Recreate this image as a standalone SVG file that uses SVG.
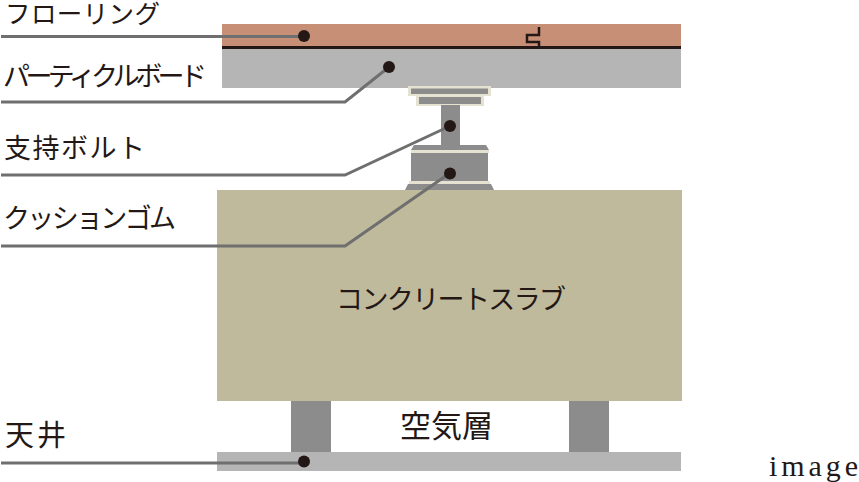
<svg xmlns="http://www.w3.org/2000/svg" width="859" height="482" viewBox="0 0 859 482">
<style>
.l{font-family:"Noto Sans CJK JP","Noto Sans CJK SC",sans-serif;font-size:27px;fill:#231815}
.c{fill:none;stroke:#6f6f6f;stroke-width:3}
.d{fill:#231815}
.g{fill:#8c8c8c}
.b{fill:#e6e2d2}
</style>
<rect width="859" height="482" fill="#fff"/>
<g id="flooring"><rect x="222" y="24" width="459" height="22.500" fill="#c78f76"/><rect x="222" y="46" width="459" height="3" fill="#231815"/><path d="M539 27V35H527V42H539V46" fill="none" stroke="#231815" stroke-width="2.500"/><text class="l" x="5" y="23" textLength="155" style="font-size:25.500px">フローリング</text></g>
<g id="board"><rect x="222" y="49" width="459" height="39" fill="#b5b5b5"/><text class="l" x="3" y="86" textLength="204">パーティクルボード</text></g>
<g id="bolt">
<rect class="b" x="408" y="86" width="83" height="10"/><rect class="g" x="411" y="88.500" width="77" height="5.500"/>
<rect class="b" x="416" y="95" width="68" height="11"/><rect class="g" x="419" y="97" width="62" height="7"/>
<rect class="g" x="441" y="105" width="19" height="41"/>
<path class="g" d="M414 145H486L489 150H411Z"/>
<text class="l" x="4" y="158" textLength="141">支持ボルト</text></g>
<g id="rubber">
<rect class="b" x="411" y="150" width="78" height="3"/><rect class="g" x="411" y="153" width="77" height="28.500"/>
<rect class="b" x="409" y="181" width="81" height="3"/><path class="g" d="M408 184H491L494 190H405Z"/>
<text class="l" x="3" y="228" textLength="173">クッションゴム</text></g>
<g id="slab"><rect x="217" y="190" width="465" height="211" fill="#bfba9c"/><text class="l" x="336" y="309" textLength="230">コンクリートスラブ</text></g>
<g id="air"><rect class="g" x="291" y="401" width="40" height="52"/><rect class="g" x="569" y="401" width="40" height="52"/><text class="l" x="400" y="437" textLength="93" style="font-size:31px">空気層</text></g>
<g id="ceiling"><rect x="217" y="452" width="464" height="19" fill="#b5b5b5"/><text class="l" x="5" y="446" textLength="61" style="font-size:29px">天井</text></g>
<g id="connectors">
<path class="c" d="M1 36.500H304"/><path class="c" d="M1 102H345L389 67"/><path class="c" d="M1 175H345L450 126"/><path class="c" d="M1 246H345L450 173"/><path class="c" d="M1 463H304"/>
<circle class="d" cx="304" cy="36" r="6"/><circle class="d" cx="389" cy="67" r="6"/><circle class="d" cx="450" cy="126" r="6"/><circle class="d" cx="450" cy="173.500" r="6"/><circle class="d" cx="304" cy="461.500" r="6"/>
</g>
<text x="769" y="476" font-family="Liberation Serif,serif" font-size="30" textLength="89" fill="#231815">image</text>
</svg>
